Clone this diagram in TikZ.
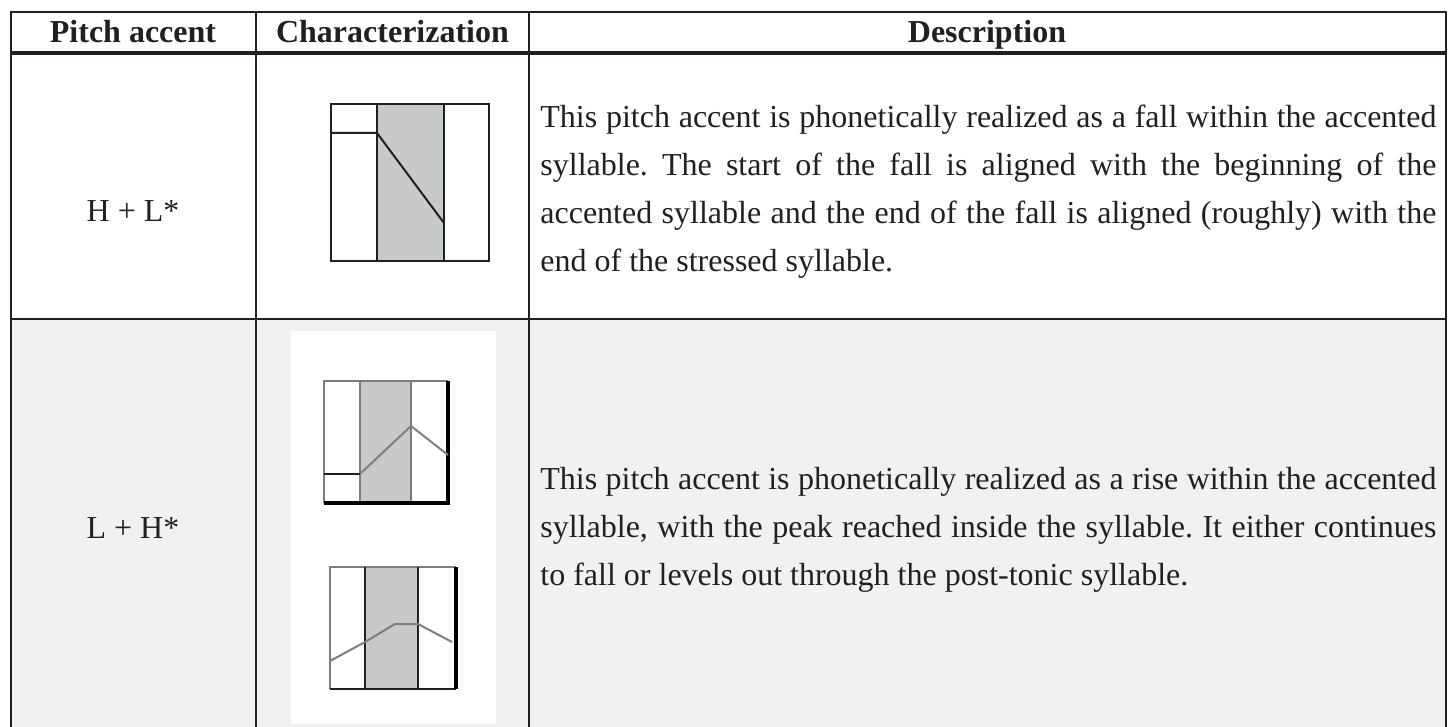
\documentclass[tikz,border=0pt]{standalone}
\usepackage{fontspec}
\setmainfont{Liberation Serif}
\hyphenpenalty=10000
\exhyphenpenalty=10000
\frenchspacing
\definecolor{rule}{HTML}{231F20}
\definecolor{rowgray}{HTML}{F1F1F1}
\definecolor{sylshade}{HTML}{C8C9CB}
\definecolor{figgray}{HTML}{7E7E7E}
\tikzset{
  cell/.style={inner sep=0pt,text=rule,font=\fontsize{16}{24}\selectfont},
  head/.style={cell,anchor=base,font=\fontsize{16}{24}\selectfont\bfseries},
  accent/.style={cell,anchor=base},
  desc/.style={cell,anchor=north west,text width=448pt,align=justify},
  grid/.style={draw=rule,line width=0.9pt},
  contour/.style={line width=1pt,line join=round},
}
\begin{document}
\begin{tikzpicture}[x=0.5pt,y=-0.5pt]
      \useasboundingbox (0,0) rectangle (1450,727);
      \begin{scope}
        \clip (0,0) rectangle (1450,727);
        \fill [rowgray] (10.7,319) rectangle (1446,745);
        \fill [white] (291,331) rectangle (496,724);
        \draw [grid] (10.7,745) -- (10.7,12) -- (1446,12) -- (1446,745);
        \draw [grid] (256,12) -- (256,745) (529,12) -- (529,745);
        \draw [grid] (10.7,319) -- (1446,319);
        \draw [rule,line width=2pt] (10.7,53) -- (1446,53);
      \end{scope}
      \node (hpitch) at (133,43)[head]{Pitch accent};
      \node (hchar) at (392.5,43)[head]{Characterization};
      \node (hdesc) at (987,43)[head]{Description};
      \node (hl) at (133,222)[accent]{H + L*};
      \node (lh) at (133,538)[accent]{L + H*};
      \node (deschl) at (540,105)[desc]{This pitch accent is phonetically realized as a fall within the accented syllable. The start of the fall is aligned with the beginning of the accented syllable and the end of the fall is aligned (roughly) with the end of the stressed syllable.};
      \node (desclh) at (540,467)[desc]{This pitch accent is phonetically realized as a rise within the accented syllable, with the peak reached inside the syllable. It either continues to fall or levels out through the post-tonic syllable.};
      \fill [sylshade] (377,104) rectangle (444,261);
      \draw [rule,line width=1pt] (331,104) rectangle (489,261) (377,104) -- (377,261) (444,104) -- (444,261);
      \draw [rule,contour] (331,133) -- (377,133) -- (444,223);
      \fill [sylshade] (360,381) rectangle (411,503);
      \draw [figgray,line width=0.8pt] (324,503) -- (324,381) -- (448,381) (360,381) -- (360,503) (411,381) -- (411,503);
      \draw [black,line width=2pt] (324,503) -- (448,503) -- (448,381);
      \draw [rule,line width=1pt] (324,474) -- (360,474);
      \draw [figgray,contour] (360,474) -- (411,426) -- (448,455);
      \fill [sylshade] (365,567) rectangle (418,689);
      \draw [figgray,line width=0.8pt] (330,689) -- (330,567) -- (456,567);
      \draw [rule,line width=1.1pt] (365,567) -- (365,689) (418,567) -- (418,689) (330,689) -- (456,689);
      \draw [black,line width=2pt] (456,567) -- (456,689);
      \draw [figgray,contour] (330,661) -- (365,642) -- (395,624) -- (418,624) -- (452,642);
    \end{tikzpicture}
\end{document}
